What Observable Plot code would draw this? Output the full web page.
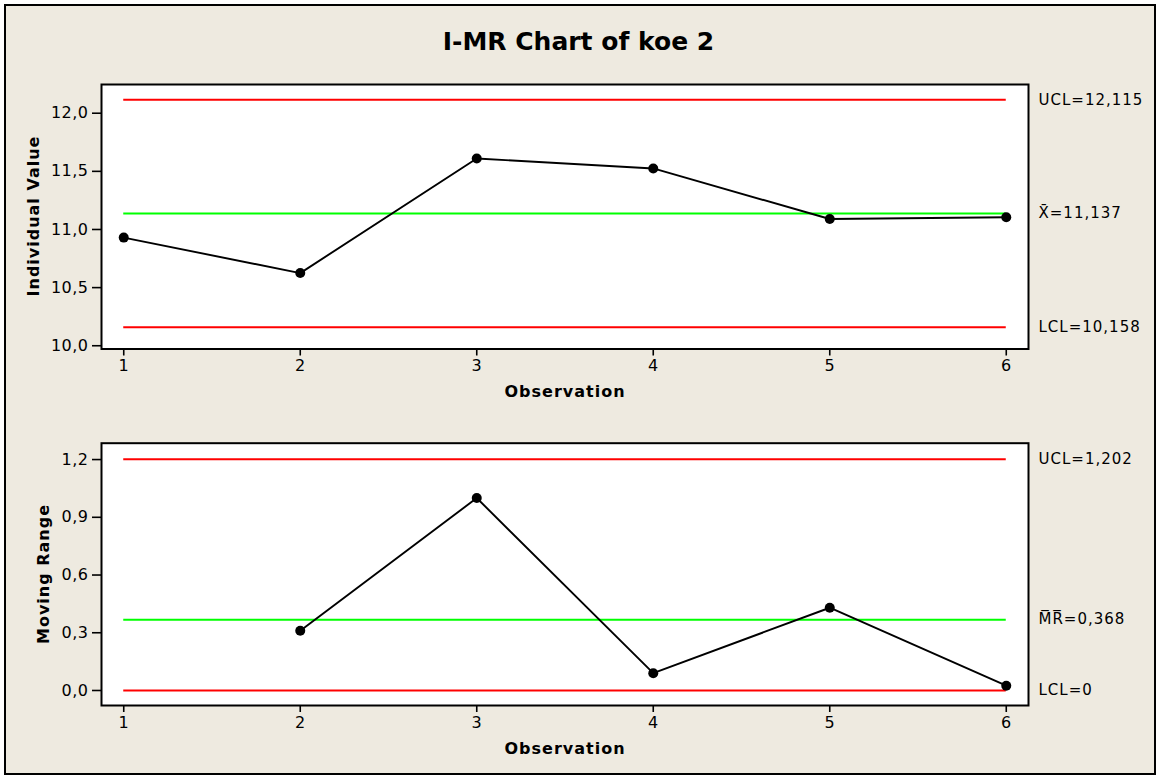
<!DOCTYPE html>
<html>
<head>
<meta charset="utf-8">
<script src="https://cdn.jsdelivr.net/npm/d3@7"></script>
<script src="https://cdn.jsdelivr.net/npm/@observablehq/plot@0.6"></script>
<style>
  html, body { margin: 0; padding: 0; background: #ffffff; }
  #wrap { position: relative; width: 1157px; height: 776px; overflow: hidden; font-family: "DejaVu Sans", sans-serif; }
  #box { position: absolute; left: 4px; top: 4px; width: 1148px; height: 767px; border: 2px solid #000; background: #EEEAE0; }
  #title { position: absolute; left: 0; width: 1157px; top: 26px; height: 32px; line-height: 32px; text-align: center; font-weight: bold; font-size: 25px; color: #000; }
  .panel { position: absolute; left: 0; width: 1157px; }
  .ylab { position: absolute; white-space: nowrap; font-weight: bold; font-size: 16px; letter-spacing: 1px; color: #000;
          transform: translate(-50%, -50%) rotate(-90deg); }
  .limit-label { letter-spacing: 1px; }
  .panel svg g[aria-label*="tick label"], .panel svg g[aria-label*="tick label"] text { font-size: 16px !important; letter-spacing: 0.5px; }
  .axis-title { letter-spacing: 1px; }
</style>
</head>
<body>
<div id="wrap">
  <div id="box"></div>
  <div id="title">I-MR Chart of koe 2</div>
  <div id="topPanel" class="panel" style="top:0px"></div>
  <div id="bottomPanel" class="panel" style="top:420px"></div>
</div>
<script>
// ---- data ----
const observations = [1, 2, 3, 4, 5, 6];
const individualValues = [10.93, 10.625, 11.61, 11.525, 11.09, 11.105];
const mrObservations = [2, 3, 4, 5, 6];
const movingRanges = [0.31, 1.0, 0.09, 0.43, 0.025];
const iLimitValues = [12.115, 11.137, 10.158];
const iLimitLabels = ["UCL=12,115", "X\u0304=11,137", "LCL=10,158"];
const mrLimitValues = [1.202, 0.368, 0];
const mrLimitLabels = ["UCL=1,202", "M\u0305R\u0305=0,368", "LCL=0"];
const iTicks = [10, 10.5, 11, 11.5, 12];
const mrTicks = [0, 0.3, 0.6, 0.9, 1.2];
const xTicks = [1, 2, 3, 4, 5, 6];
const xTitle = "Observation";
const yTitles = ["Individual Value", "Moving Range"];

// ---- styles ----
const limitColors = ["#ff0000", "#00ff00", "#ff0000"];
const comma = d => d.toFixed(1).replace(".", ",");
const font = "DejaVu Sans, sans-serif";

function panel({height, marginTop, marginBottom, yDomain, yTicks, points, limits, labels}) {
  const limitRows = limits.map((v, i) => ({v, label: labels[i], color: limitColors[i]}));
  return Plot.plot({
    width: 1157,
    height,
    marginLeft: 101,
    marginRight: 129,
    marginTop,
    marginBottom,
    style: {background: "transparent", fontFamily: font, fontSize: "15px", color: "#000", overflow: "visible"},
    x: {domain: [0.874, 6.126]},
    y: {domain: yDomain},
    marks: [
      Plot.frame({fill: "white", stroke: null}),
      Plot.ruleY(limitRows, {y: "v", x1: 1, x2: 6, stroke: "color", strokeWidth: 2}),
      Plot.line(points, {x: "x", y: "y", stroke: "black", strokeWidth: 1.9}),
      Plot.dot(points, {x: "x", y: "y", r: 5, fill: "black", stroke: null}),
      Plot.frame({stroke: "black", strokeWidth: 2}),
      Plot.axisY({ticks: yTicks, tickFormat: comma, tickSize: 9, tickPadding: 4, strokeWidth: 1.6, label: null, fontSize: 16}),
      Plot.axisX({ticks: xTicks, tickFormat: d => String(d), tickSize: 7, tickPadding: 4, strokeWidth: 1.6, label: null, fontSize: 16}),
      Plot.text(limitRows, {y: "v", text: "label", frameAnchor: "right", dx: 10, textAnchor: "start", fontSize: 15, className: "limit-label"}),
      Plot.text([xTitle], {frameAnchor: "bottom", dy: 48, fontWeight: "bold", fontSize: 16, className: "axis-title"})
    ]
  });
}

(function () {
  const topPoints = observations.map((x, i) => ({x, y: individualValues[i]}));
  const mrPoints = mrObservations.map((x, i) => ({x, y: movingRanges[i]}));

  const topChart = panel({
    height: 420, marginTop: 84, marginBottom: 71.5,
    yDomain: [9.972, 12.247], yTicks: iTicks, points: topPoints,
    limits: iLimitValues, labels: iLimitLabels
  });
  const bottomChart = panel({
    height: 356, marginTop: 22.7, marginBottom: 71,
    yDomain: [-0.078, 1.285], yTicks: mrTicks, points: mrPoints,
    limits: mrLimitValues, labels: mrLimitLabels
  });
  document.getElementById("topPanel").appendChild(topChart);
  document.getElementById("bottomPanel").appendChild(bottomChart);

  // rotated y-axis titles, centred on each frame
  const wrap = document.getElementById("wrap");
  [[yTitles[0], 33, 216], [yTitles[1], 43, 574]].forEach(([t, cx, cy]) => {
    const d = document.createElement("div");
    d.className = "ylab";
    d.textContent = t;
    d.style.left = cx + "px";
    d.style.top = cy + "px";
    wrap.appendChild(d);
  });
})();
</script>
</body>
</html>
